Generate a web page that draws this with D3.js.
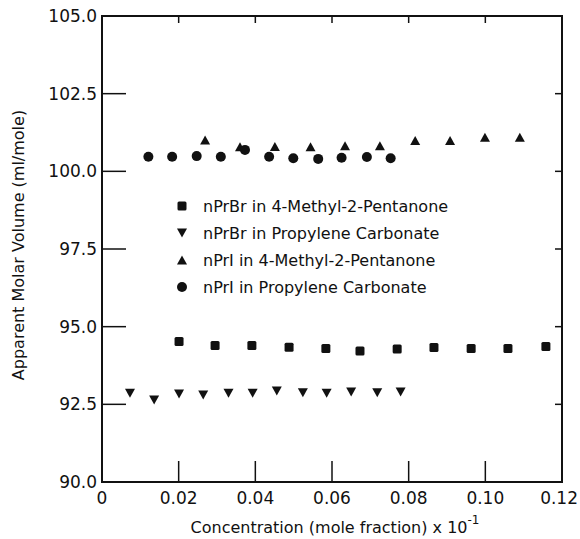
<!DOCTYPE html>
<html>
<head>
<meta charset="utf-8">
<script src="https://cdn.jsdelivr.net/npm/d3@7"></script>
<style>
  body { margin: 0; background: #fff; }
  text { font-family: "DejaVu Sans", sans-serif; fill: #111; }
</style>
</head>
<body>
<div id="chart"></div>
<script>
(() => {

  // axis ticks
  let xTicks = [0, 0.02, 0.04, 0.06, 0.08, 0.10, 0.12]
  let xTickLabels = ["0", "0.02", "0.04", "0.06", "0.08", "0.10", "0.12"]
  let yTicks = [90, 92.5, 95, 97.5, 100, 102.5, 105]
  let yTickLabels = ["90.0", "92.5", "95.0", "97.5", "100.0", "102.5", "105.0"]

  // nPrBr in 4-Methyl-2-Pentanone (squares)
  let brMpX = [0.0201, 0.0295, 0.0391, 0.0488, 0.0584, 0.0673, 0.0770, 0.0866, 0.0963, 0.1059, 0.1158]
  let brMpY = [94.52, 94.39, 94.39, 94.34, 94.30, 94.22, 94.28, 94.33, 94.30, 94.30, 94.36]

  // nPrBr in Propylene Carbonate (down triangles)
  let brPcX = [0.0073, 0.0136, 0.0201, 0.0264, 0.0330, 0.0393, 0.0456, 0.0524, 0.0586, 0.0650, 0.0718, 0.0779]
  let brPcY = [92.86, 92.64, 92.83, 92.80, 92.86, 92.86, 92.93, 92.87, 92.86, 92.90, 92.87, 92.90]

  // nPrI in 4-Methyl-2-Pentanone (up triangles)
  let iMpX = [0.0269, 0.0360, 0.0451, 0.0544, 0.0634, 0.0725, 0.0817, 0.0908, 0.0999, 0.1090]
  let iMpY = [101.01, 100.79, 100.80, 100.79, 100.82, 100.82, 100.99, 100.99, 101.10, 101.10]

  // nPrI in Propylene Carbonate (circles)
  let iPcX = [0.0121, 0.0183, 0.0247, 0.0310, 0.0373, 0.0436, 0.0499, 0.0564, 0.0625, 0.0691, 0.0753]
  let iPcY = [100.47, 100.47, 100.49, 100.47, 100.69, 100.47, 100.42, 100.40, 100.44, 100.46, 100.42]

  let legendLabels = [
    "nPrBr in 4-Methyl-2-Pentanone",
    "nPrBr in Propylene Carbonate",
    "nPrI in 4-Methyl-2-Pentanone",
    "nPrI in Propylene Carbonate"
  ]

  let svg = d3.select("#chart")
  .append("svg")
  .attr("width", 580)
  .attr("height", 539)

  let margin = {top: 16, right: 18, bottom: 57, left: 102}
  let width = 580 - margin.left - margin.right
  let height = 539 - margin.top - margin.bottom

  let x = d3.scaleLinear()
  .domain([0, 0.12])
  .range([margin.left, margin.left + width])

  let y = d3.scaleLinear()
  .domain([90, 105])
  .range([margin.top + height, margin.top])

  // ticks: long inside on left/bottom, short on top/right
  let g = svg.append("g").attr("stroke", "#111").attr("stroke-width", 1.5)

  g.selectAll(".xb").data(xTicks.slice(1, -1)).enter()
  .append("line")
  .attr("x1", d => x(d)).attr("x2", d => x(d))
  .attr("y1", y(90)).attr("y2", y(90) - 21)

  g.selectAll(".xt").data(xTicks.slice(1, -1)).enter()
  .append("line")
  .attr("x1", d => x(d)).attr("x2", d => x(d))
  .attr("y1", y(105)).attr("y2", y(105) + 7)

  g.selectAll(".yl").data(yTicks.slice(1, -1)).enter()
  .append("line")
  .attr("x1", x(0)).attr("x2", x(0) + 24)
  .attr("y1", d => y(d)).attr("y2", d => y(d))

  g.selectAll(".yr").data(yTicks.slice(1, -1)).enter()
  .append("line")
  .attr("x1", x(0.12)).attr("x2", x(0.12) - 7)
  .attr("y1", d => y(d)).attr("y2", d => y(d))

  // frame
  svg.append("rect")
  .attr("x", x(0)).attr("y", y(105))
  .attr("width", x(0.12) - x(0)).attr("height", y(90) - y(105))
  .attr("fill", "none")
  .attr("stroke", "#111")
  .attr("stroke-width", 2)

  // tick labels (last one kept inside the page)
  svg.selectAll(".xlab").data(xTicks).enter()
  .append("text")
  .attr("x", (d, i) => i == xTicks.length - 1 ? 578 : x(d))
  .attr("y", y(90) + 22)
  .text((d, i) => xTickLabels[i])
  .style("text-anchor", (d, i) => i == xTicks.length - 1 ? "end" : "middle")
  .style("font-size", "17px")

  svg.selectAll(".ylab").data(yTicks).enter()
  .append("text")
  .attr("x", x(0) - 5)
  .attr("y", d => y(d) + 6)
  .text((d, i) => yTickLabels[i])
  .style("text-anchor", "end")
  .style("font-size", "17px")

  // axis titles
  let xt = svg.append("text")
  .attr("x", 335)
  .attr("y", 533)
  .style("text-anchor", "middle")
  .style("font-size", "16px")
  xt.append("tspan").text("Concentration (mole fraction) x 10")
  xt.append("tspan").attr("dy", -9).style("font-size", "12px").text("-1")

  svg.append("text")
  .attr("transform", "translate(24,245) rotate(-90)")
  .style("text-anchor", "middle")
  .style("font-size", "16px")
  .text("Apparent Molar Volume (ml/mole)")

  // marker shapes, centred on their visual box
  let up = (cx, cy) => `M${cx - 5},${cy + 4.5}L${cx},${cy - 4.5}L${cx + 5},${cy + 4.5}Z`
  let down = (cx, cy) => `M${cx - 5},${cy - 4.5}L${cx},${cy + 4.5}L${cx + 5},${cy - 4.5}Z`

  let marks = svg.append("g").attr("fill", "#111")

  marks.selectAll(".sq").data(brMpX).enter()
  .append("rect")
  .attr("x", (d) => x(d) - 4.5)
  .attr("y", (d, i) => y(brMpY[i]) - 4.5)
  .attr("width", 9).attr("height", 9).attr("rx", 1.5)

  marks.selectAll(".dn").data(brPcX).enter()
  .append("path")
  .attr("d", (d, i) => down(x(d), y(brPcY[i])))

  marks.selectAll(".up").data(iMpX).enter()
  .append("path")
  .attr("d", (d, i) => up(x(d), y(iMpY[i])))

  marks.selectAll(".ci").data(iPcX).enter()
  .append("circle")
  .attr("cx", d => x(d))
  .attr("cy", (d, i) => y(iPcY[i]))
  .attr("r", 5)

  // legend
  let legendY = [206, 233, 260, 287]
  let lx = 182
  marks.append("rect").attr("x", lx - 4.5).attr("y", legendY[0] - 4.5).attr("width", 9).attr("height", 9).attr("rx", 1.5)
  marks.append("path").attr("d", down(lx, legendY[1]))
  marks.append("path").attr("d", up(lx, legendY[2]))
  marks.append("circle").attr("cx", lx).attr("cy", legendY[3]).attr("r", 5)

  svg.selectAll(".leg").data(legendLabels).enter()
  .append("text")
  .attr("x", 203)
  .attr("y", (d, i) => legendY[i] + 6)
  .text(d => d)
  .style("font-size", "16px")

})()
</script>
</body>
</html>
